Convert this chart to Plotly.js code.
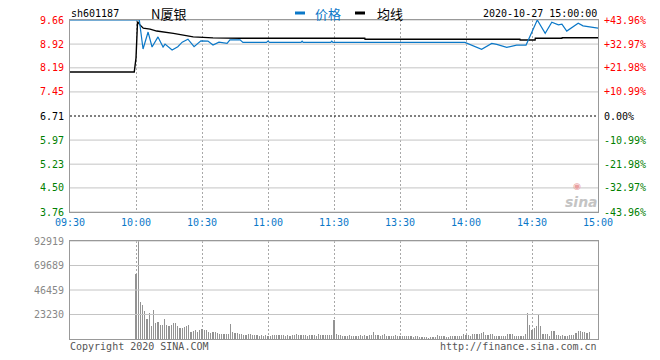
<!DOCTYPE html>
<html><head><meta charset="utf-8">
<script src="https://cdn.plot.ly/plotly-3.0.1.min.js"></script>
<style>html,body{margin:0;padding:0;background:#fff}#chart{width:660px;height:360px}</style>
</head><body><div id="chart"></div>
<script>
const stockCode = 'sh601187';
const stockName = 'N厦银';
const timestamp = '2020-10-27 15:00:00';
const legendPrice = '价格';
const legendAvg = '均线';
const copyrightText = 'Copyright 2020 SINA.COM';
const urlText = 'http://finance.sina.com.cn';
const prevClose = 6.71;
const timeTickMinutes = [0, 30, 60, 90, 120, 150, 180, 210, 240];
const timeTickLabels = ['09:30', '10:00', '10:30', '11:00', '11:30', '13:30', '14:00', '14:30', '15:00'];
const priceTicks = [3.76, 4.50, 5.23, 5.97, 6.71, 7.45, 8.19, 8.92, 9.66];
const priceTickLabels = ['3.76', '4.50', '5.23', '5.97', '6.71', '7.45', '8.19', '8.92', '9.66'];
const pctTickLabels = ['-43.96%', '-32.97%', '-21.98%', '-10.99%', '0.00%', '+10.99%', '+21.98%', '+32.97%', '+43.96%'];
const volTicks = [23230, 46459, 69689, 92919];
const volTickLabels = ['23230', '46459', '69689', '92919'];

const priceMinutes = [0, 31.5, 33.2, 35.5, 37.3, 40, 42.3, 43.2, 46.4, 49, 51, 53.6, 56.4, 59.5, 62.7, 65, 67.7, 71.4, 72.7, 77.3, 78.6, 89.3, 90, 90.7, 105, 105.5, 106, 118.5, 119, 119.5, 179.5, 187.1, 191.7, 194, 198.5, 203, 207.3, 212.4, 216, 219, 222, 223.6, 225.8, 231, 233.2, 236.4, 240];
const priceValues = [9.66, 9.66, 8.77, 9.29, 8.83, 9.14, 8.83, 8.92, 8.74, 8.84, 8.98, 9.07, 8.84, 9.02, 9.01, 8.89, 8.98, 8.94, 9.05, 9.05, 8.97, 8.97, 9.01, 8.97, 8.97, 9.01, 8.97, 8.97, 9.01, 8.97, 8.97, 8.76, 8.94, 8.91, 8.82, 8.89, 8.89, 9.66, 9.25, 9.59, 9.51, 9.53, 9.32, 9.56, 9.48, 9.44, 9.41];

const avgMinutes = [0, 29.2, 30, 30.7, 31.8, 33.3, 36.4, 39.4, 47, 56, 65, 77.3, 134, 134.1, 204.5, 204.6, 211.4, 211.5, 223.6, 223.7, 240];
const avgValues = [8.06, 8.06, 8.49, 9.61, 9.51, 9.41, 9.38, 9.32, 9.25, 9.14, 9.11, 9.10, 9.10, 9.07, 9.07, 9.045, 9.045, 9.10, 9.10, 9.115, 9.115];

const volStartMinute = 30;
const volumes = [
  61250, 92919, 35150, 32320, 26670, 19410, 24790, 12530, 27610, 14700,
  16300, 13480, 13480, 19130, 13480, 11870, 12820, 14700, 15640, 11870,
  9990, 9990, 10930, 11870, 12820, 6220, 7160, 8760, 6220, 8760,
  9400, 8760, 8760, 6220, 5280, 6220, 6220, 5600, 5000, 5000,
  5000, 5000, 5000, 14420, 6910, 5940, 5310, 4350, 4980, 3420,
  3420, 4350, 4350, 3420, 3420, 3420, 3100, 4040, 3100, 3420,
  3100, 3110, 3420, 3420, 3420, 3420, 3420, 3420, 2480, 3420,
  2480, 3420, 3420, 4680, 3420, 3420, 3420, 3420, 2480, 4050,
  3420, 3420, 2480, 4990, 3420, 3420, 3420, 3420, 3420, 3420,
  17900, 4350, 3420, 3420, 3110, 2480, 2480, 3420, 2480, 2480,
  2480, 2480, 3420, 2480, 3420, 2480, 3420, 3420, 6280, 3420,
  3420, 2480, 3420, 4990, 2480, 2480, 2480, 2480, 4050, 2480,
  2480, 2480, 2480, 3110, 2480, 2480, 1860, 2480, 3110,
  1860, 1860, 1860, 1860, 1250, 1860, 1860, 1860, 4050, 3110, 3110,
  3110, 1860, 1860, 3110, 2480, 2480, 3110, 3110, 3110, 4350,
  4050, 3420, 3110, 4990, 4990, 4990, 4350, 5620, 6280, 4050,
  3420, 4350, 4990, 3110, 3110, 3110, 3110, 3110, 3110, 4350,
  4990, 4350, 2480, 2480, 3110, 3110, 2480, 4990,
  24780, 13480, 8760, 10330, 11890, 22620, 12500,
  4350, 4350, 4990, 3110, 7220, 7220, 4050, 4050, 3110, 4050,
  2480, 2480, 4050, 3420, 3420, 5940, 7830, 7830, 6280, 6280, 5620, 6280
];

const BLUE = '#0b78c8';
const RED = '#ff0000';
const GREEN = '#008000';
const HGRID = '#c4c4c4';
const MONO = 'DejaVu Sans Mono, monospace';
const CJK = 'Noto Sans CJK SC, sans-serif';

function colorFor(v) { return v > prevClose + 1e-9 ? RED : (v < prevClose - 1e-9 ? GREEN : '#000'); }
const priceTickText = priceTicks.map((v, i) => `<span style="color:${colorFor(v)}">${priceTickLabels[i]}</span>`);
const pctTickText = priceTicks.map((v, i) => `<span style="color:${colorFor(v)}">${pctTickLabels[i]}</span>`);

const volX = volumes.map((v, i) => volStartMinute + i);
const xStart = timeTickMinutes[0];
const xEnd = timeTickMinutes[timeTickMinutes.length - 1];

const traces = [];
// horizontal grid lines (price panel); prev-close line black dotted
priceTicks.forEach(v => {
  const isBase = Math.abs(v - prevClose) < 1e-9;
  traces.push({x: [xStart, xEnd], y: [v, v], type: 'scatter', mode: 'lines',
    line: isBase ? {color: '#000', width: 1, dash: '2px,2px'} : {color: HGRID, width: 1},
    xaxis: 'x', yaxis: 'y', hoverinfo: 'skip'});
});
// horizontal grid lines (volume panel)
volTicks.forEach(v => {
  traces.push({x: [xStart, xEnd], y: [v, v], type: 'scatter', mode: 'lines',
    line: {color: HGRID, width: 1}, xaxis: 'x2', yaxis: 'y2', hoverinfo: 'skip'});
});
traces.push(
  {x: avgMinutes, y: avgValues, type: 'scatter', mode: 'lines', line: {color: '#000', width: 1.4}, xaxis: 'x', yaxis: 'y', hoverinfo: 'skip'},
  {x: priceMinutes, y: priceValues, type: 'scatter', mode: 'lines', line: {color: BLUE, width: 1.2}, xaxis: 'x', yaxis: 'y', hoverinfo: 'skip'},
  {x: [xStart], y: [prevClose], type: 'scatter', mode: 'markers', marker: {opacity: 0}, xaxis: 'x', yaxis: 'y3', hoverinfo: 'skip'},
  {x: volX, y: volumes, type: 'bar', width: 0.5, marker: {color: '#939393', line: {width: 0}}, xaxis: 'x2', yaxis: 'y2', hoverinfo: 'skip'}
);

// plot box: left 70, right 598, top 20, bottom 339 (px)
const px = x => (x - 70) / 528;
const py = y => (339 - y) / 319;

const xGrid = {showgrid: true, gridcolor: '#a8a8a8', griddash: '2px,2px', gridwidth: 1, zeroline: false, showline: true, linecolor: '#999', linewidth: 1, mirror: true};
const yNoGrid = {showgrid: false, zeroline: false, showline: true, linecolor: '#999', linewidth: 1, mirror: true};

const layout = {
  width: 660, height: 360, autosize: false,
  margin: {l: 70, r: 62, t: 20, b: 21, pad: 0},
  paper_bgcolor: '#fff', plot_bgcolor: '#fff',
  showlegend: false,
  bargap: 0,
  xaxis: Object.assign({}, xGrid, {
    anchor: 'y', domain: [0, 1], range: [xStart, xEnd],
    tickmode: 'array', tickvals: timeTickMinutes, ticktext: timeTickLabels,
    ticks: 'outside', ticklen: 1, tickcolor: 'rgba(0,0,0,0)',
    tickfont: {family: MONO, size: 10, color: BLUE}
  }),
  yaxis: Object.assign({}, yNoGrid, {
    domain: [0.3981, 1], range: [3.76, 9.66], anchor: 'x',
    tickmode: 'array', tickvals: priceTicks, ticktext: priceTickText,
    ticks: 'outside', ticklen: 3, tickcolor: 'rgba(0,0,0,0)',
    tickfont: {family: MONO, size: 10, color: '#000'}
  }),
  yaxis3: {
    overlaying: 'y', side: 'right', anchor: 'x', range: [3.76, 9.66],
    tickmode: 'array', tickvals: priceTicks, ticktext: pctTickText,
    showgrid: false, zeroline: false, showline: false,
    ticks: 'outside', ticklen: 3, tickcolor: 'rgba(0,0,0,0)',
    tickfont: {family: MONO, size: 10, color: '#000'}
  },
  xaxis2: Object.assign({}, xGrid, {
    anchor: 'y2', domain: [0, 1], range: [xStart, xEnd],
    tickmode: 'array', tickvals: timeTickMinutes, showticklabels: false, ticks: ''
  }),
  yaxis2: Object.assign({}, yNoGrid, {
    domain: [0, 0.3072], range: [0, 92919], anchor: 'x2',
    tickmode: 'array', tickvals: volTicks, ticktext: volTickLabels,
    ticks: 'outside', ticklen: 3, tickcolor: 'rgba(0,0,0,0)',
    tickfont: {family: MONO, size: 10, color: '#888'}
  }),
  shapes: [
    {type: 'line', xref: 'paper', yref: 'paper', x0: px(295), x1: px(305), y0: py(13), y1: py(13), line: {color: BLUE, width: 3}},
    {type: 'line', xref: 'paper', yref: 'paper', x0: px(355), x1: px(365), y0: py(13), y1: py(13), line: {color: '#000', width: 3}}
  ],
  annotations: [
    {text: stockCode, xref: 'paper', yref: 'paper', x: px(69), y: py(13), xanchor: 'left', yanchor: 'middle', showarrow: false, font: {family: MONO, size: 10, color: '#000'}},
    {text: stockName, xref: 'paper', yref: 'paper', x: px(149), y: py(13), xanchor: 'left', yanchor: 'middle', showarrow: false, font: {family: CJK, size: 13, color: '#000'}},
    {text: legendPrice, xref: 'paper', yref: 'paper', x: px(313), y: py(13), xanchor: 'left', yanchor: 'middle', showarrow: false, font: {family: CJK, size: 13, color: BLUE}},
    {text: legendAvg, xref: 'paper', yref: 'paper', x: px(375), y: py(13), xanchor: 'left', yanchor: 'middle', showarrow: false, font: {family: CJK, size: 13, color: '#000'}},
    {text: timestamp, xref: 'paper', yref: 'paper', x: px(599), y: py(13), xanchor: 'right', yanchor: 'middle', showarrow: false, font: {family: MONO, size: 10, color: '#000'}},
    {text: copyrightText, xref: 'paper', yref: 'paper', x: px(68), y: py(346), xanchor: 'left', yanchor: 'middle', showarrow: false, font: {family: MONO, size: 10, color: '#555'}},
    {text: urlText, xref: 'paper', yref: 'paper', x: px(599), y: py(346), xanchor: 'right', yanchor: 'middle', showarrow: false, font: {family: MONO, size: 10, color: '#555'}},
    {text: '◉', xref: 'paper', yref: 'paper', x: px(577), y: py(186), xanchor: 'center', yanchor: 'middle', showarrow: false, borderpad: 0, font: {family: 'DejaVu Sans', size: 9, color: '#eaa0a0'}},
    {text: '<b><i>sina</i></b>', xref: 'paper', yref: 'paper', x: px(581), y: py(202), xanchor: 'center', yanchor: 'middle', showarrow: false, borderpad: 0, font: {family: 'DejaVu Sans', size: 14, color: '#c4c4c4'}}
  ]
};

Plotly.newPlot('chart', traces, layout, {staticPlot: true, displayModeBar: false});
</script>
</body></html>
